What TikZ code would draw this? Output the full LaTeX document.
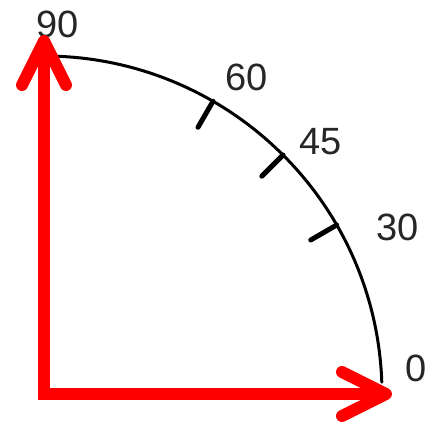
\documentclass[tikz,border=0pt]{standalone}
\usepackage{fontspec}
\setmainfont{Liberation Sans}
\usetikzlibrary{arrows.meta}

\begin{document}
\begin{tikzpicture}[x=1pt, y=-1pt, line cap=round, line join=round,
  barb/.tip={Straight Barb[round,length=44pt,width=44pt]},
  axis/.style={draw=red, line width=12pt, line cap=butt, line join=miter, barb-barb},
  rim/.style={line width=3pt},
  tick/.style={line width=5pt},
  deg/.style={inner sep=0pt, text=black!85, font=\fontsize{38}{40}\selectfont}]

  %% ════ anchor points ════
  \coordinate (O) at (44,394);
  \coordinate (Y) at (44,35);
  \coordinate (X) at (392,394);

  %% ════ quarter arc + ticks ════
  \draw[rim, shift={(O)}] (-2:338) arc[start angle=-2, end angle=-90, radius=338];
  \draw[tick, shift={(O)}] (-30:338) -- (-30:308);
  \draw[tick, shift={(O)}] (-45:338) -- (-45:308);
  \draw[tick, shift={(O)}] (-60:338) -- (-60:308);

  %% ════ labels ════
  \node[deg] (d90) at (58,24) {90};
  \node[deg] (d60) at (247,77) {60};
  \node[deg] (d45) at (321,142) {45};
  \node[deg] (d30) at (398,227) {30};
  \node[deg] (d0) at (416,368) {0};

  %% ════ red axes ════
  \draw[axis] (Y) -- (O) -- (X);

  % fix the canvas
  \pgfresetboundingbox
  \path[use as bounding box] (0,0) rectangle (436,425);
\end{tikzpicture}
\end{document}
